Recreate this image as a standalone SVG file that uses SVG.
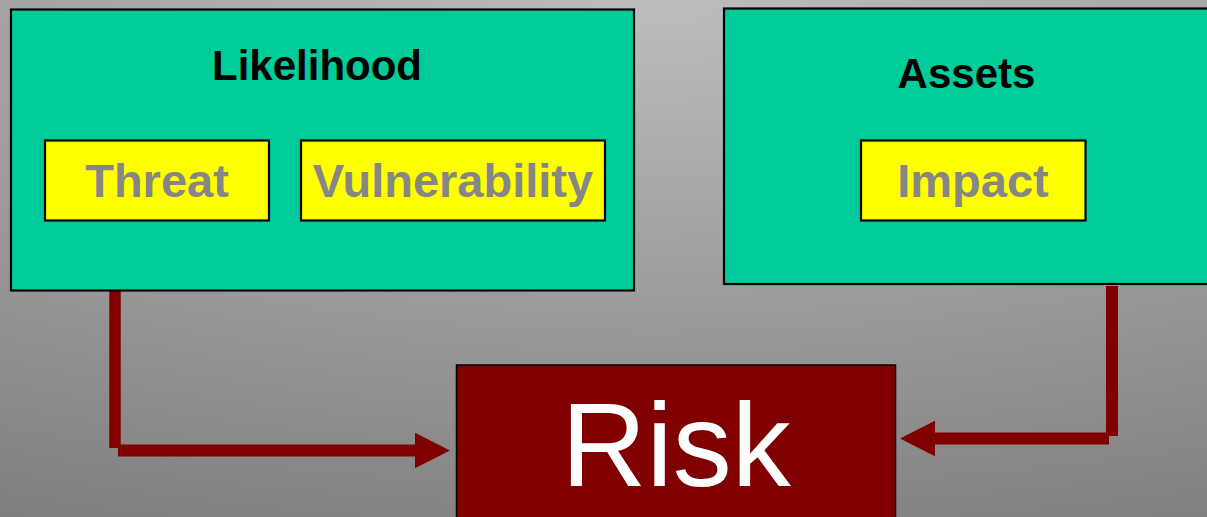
<svg xmlns="http://www.w3.org/2000/svg" width="1207" height="517" viewBox="0 0 1207 517">
  <defs>
    <radialGradient id="bg" gradientUnits="userSpaceOnUse" cx="660" cy="0" r="600" gradientTransform="translate(660 0) scale(2.8 1) translate(-660 0)">
      <stop offset="0" stop-color="#bdbdbd"/>
      <stop offset="1" stop-color="#7b7b7b"/>
    </radialGradient>
    <marker id="arrow" markerUnits="userSpaceOnUse" markerWidth="36" markerHeight="36" refX="0" refY="17.8" orient="auto">
      <path d="M0,0 L35,17.8 L0,35.6 z" fill="#800000"/>
    </marker>
    <style>
      .group { fill: #00cc99; stroke: #000; stroke-width: 2.2; }
      .item { fill: #ffff00; stroke: #000; stroke-width: 2.2; }
      .risk { fill: #800000; stroke: #000; stroke-width: 1.5; }
      .title { font-family: "Liberation Sans", Arial, sans-serif; font-weight: bold; font-size: 42px; fill: #000; text-anchor: middle; }
      .label { font-family: "Liberation Sans", Arial, sans-serif; font-weight: bold; font-size: 47px; fill: #868686; text-anchor: middle; }
      .risktext { font-family: "Liberation Sans", Arial, sans-serif; font-size: 118px; fill: #ffffff; text-anchor: middle; }
      .conn { stroke: #800000; fill: none; stroke-linecap: butt; }
    </style>
  </defs>
  <rect x="0" y="0" width="1207" height="517" fill="url(#bg)"/>

  <g id="connectors">
    <line class="conn" x1="115" y1="291" x2="115" y2="448" stroke-width="11.5"/>
    <line class="conn" x1="118" y1="450.5" x2="415" y2="450.5" stroke-width="12" marker-end="url(#arrow)"/>
    <line class="conn" x1="1112" y1="286" x2="1112" y2="436" stroke-width="12"/>
    <line class="conn" x1="1109" y1="438.5" x2="935" y2="438.5" stroke-width="12" marker-end="url(#arrow)"/>
  </g>

  <g id="likelihood">
    <rect class="group" x="11" y="9.5" width="623" height="281"/>
    <text class="title" x="317" y="80">Likelihood</text>
  </g>
  <g id="threat">
    <rect class="item" x="45" y="140.5" width="224" height="80"/>
    <text class="label" x="157" y="197">Threat</text>
  </g>
  <g id="vulnerability">
    <rect class="item" x="301" y="140.5" width="304" height="80"/>
    <text class="label" x="453" y="197">Vulnerability</text>
  </g>
  <g id="assets">
    <rect class="group" x="724" y="8.5" width="500" height="275.5"/>
    <text class="title" x="966.5" y="88">Assets</text>
  </g>
  <g id="impact">
    <rect class="item" x="861" y="140.5" width="224.5" height="80"/>
    <text class="label" x="973" y="197">Impact</text>
  </g>
  <g id="risk">
    <rect class="risk" x="456.5" y="365" width="439" height="170"/>
    <text class="risktext" x="676" y="486">Risk</text>
  </g>
</svg>
